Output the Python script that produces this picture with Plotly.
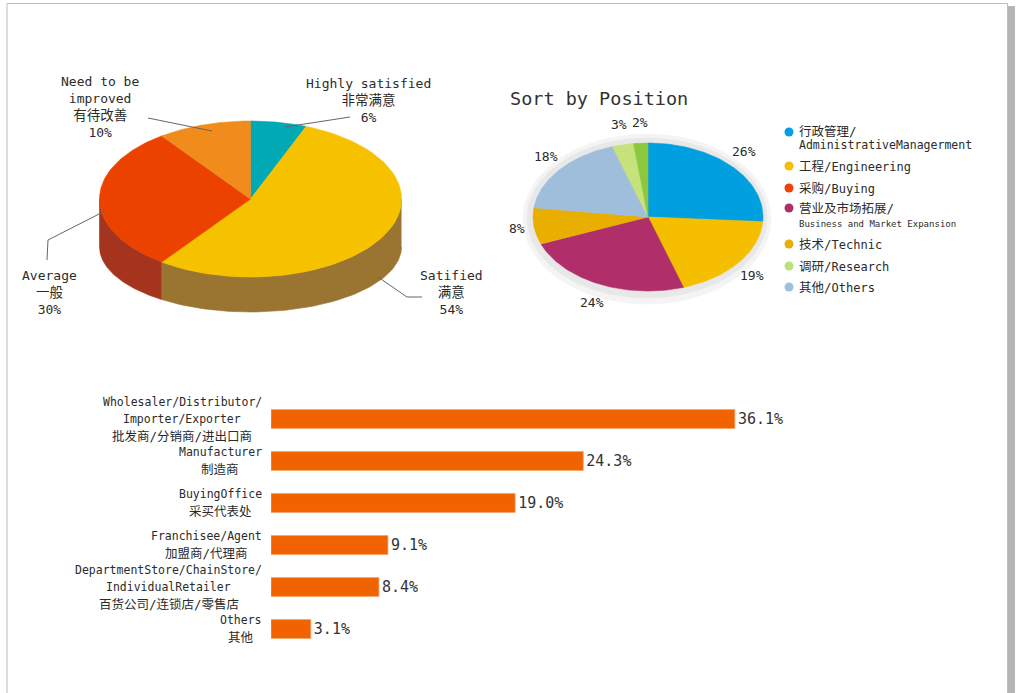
import numpy as np
import plotly.graph_objects as go

W, H = 1024, 693
FONT = "DejaVu Sans Mono, Noto Sans CJK SC, sans-serif"
TXT = "#2b2b2b"

# ---------------- data ----------------
# Left 3D pie: satisfaction
SAT_NAMES_EN = ["Highly satisfied", "Satified", "Average", "Need to be<br>improved"]
SAT_NAMES_CN = ["非常满意", "满意", "一般", "有待改善"]
SAT_VALUES = [6, 54, 30, 10]
SAT_TOP = ["#00A9B4", "#F6C200", "#EB4200", "#F18B1C"]
SAT_SIDE = ["#007A82", "#9A7532", "#A5341F", "#B0641A"]

# Right pie: sort by position (slices in drawn order, clockwise from top)
POS_VALUES = [26, 19, 24, 8, 18, 3, 2]
POS_COLORS = ["#009FE0", "#F5BF00", "#B02F6A", "#E8AE00", "#9EBEDC", "#C6E27C", "#8DC63F"]

LEGEND_CN = ["行政管理/", "工程/", "采购/", "营业及市场拓展/", "技术/", "调研/", "其他/"]
LEGEND_EN = ["AdministrativeManagerment", "Engineering", "Buying",
             "Business and Market Expansion", "Technic", "Research", "Others"]
LEGEND_COLORS = ["#009FE0", "#F5BF00", "#EE4000", "#B02F6A", "#E8AE00", "#BDE07A", "#9EBEDC"]

# Bars: sort by business type
BAR_LABELS = [["Wholesaler/Distributor/", "Importer/Exporter", "批发商/分销商/进出口商"],
              ["Manufacturer", "制造商"],
              ["BuyingOffice", "采买代表处"],
              ["Franchisee/Agent", "加盟商/代理商"],
              ["DepartmentStore/ChainStore/", "IndividualRetailer", "百货公司/连锁店/零售店"],
              ["Others", "其他"]]
BAR_VALUES = [36.1, 24.3, 19.0, 9.1, 8.4, 3.1]

# ---------------- helpers ----------------
def arc(cx, cy, rx, ry, a0, a1, n=80):
    th = np.radians(np.linspace(a0, a1, max(n, 2)))
    return cx + rx * np.sin(th), cy - ry * np.cos(th)

def poly(fig, xs, ys, color, lw=0.6):
    fig.add_trace(go.Scatter(x=list(xs), y=list(ys), mode="lines", fill="toself",
                             fillcolor=color, line=dict(color=color, width=lw),
                             hoverinfo="skip", showlegend=False, xaxis="x", yaxis="y"))

def is_cjk(s):
    return any(ord(c) > 0x2E80 for c in s)

def cjk(s, size):
    return f"<span style='font-size:{size}px'>{s}</span>"

fig = go.Figure()

# ---------------- left 3D pie ----------------
LCX, LCY, LRX, LRY = 250.5, 199, 151, 78
LBY, LBRY = 247, 65  # bottom ellipse (perspective)
angles = np.concatenate([[0], np.cumsum(SAT_VALUES)]) / sum(SAT_VALUES) * 360
for i in range(len(SAT_VALUES)):
    a0, a1 = max(angles[i], 90), min(angles[i + 1], 270)
    if a1 <= a0:
        continue
    tx, ty = arc(LCX, LCY, LRX, LRY, a0, a1)
    bx, by = arc(LCX, LBY, LRX, LBRY, a0, a1)
    poly(fig, np.concatenate([tx, bx[::-1]]), np.concatenate([ty, by[::-1]]), SAT_SIDE[i])
for i in range(len(SAT_VALUES)):
    tx, ty = arc(LCX, LCY, LRX, LRY, angles[i], angles[i + 1])
    poly(fig, np.concatenate([[LCX], tx, [LCX]]), np.concatenate([[LCY], ty, [LCY]]), SAT_TOP[i])

# ---------------- right pie ----------------
RCX, RCY, RRX, RRY = 648, 217, 115, 74
hx, hy = arc(RCX - 1, RCY + 2, RRX + 9, RRY + 11, 0, 360, 200)
poly(fig, hx, hy, "#F4F4F4")
hx, hy = arc(RCX - 1, RCY + 1, RRX + 5, RRY + 6, 0, 360, 200)
poly(fig, hx, hy, "#E8E8E8")
rang = np.concatenate([[0], np.cumsum(POS_VALUES)]) / sum(POS_VALUES) * 360
for i in range(len(POS_VALUES)):
    tx, ty = arc(RCX, RCY, RRX, RRY, rang[i], rang[i + 1])
    poly(fig, np.concatenate([[RCX], tx, [RCX]]), np.concatenate([[RCY], ty, [RCY]]), POS_COLORS[i])

annotations = []
for i, v in enumerate(POS_VALUES):
    mid = np.radians((rang[i] + rang[i + 1]) / 2)
    annotations.append(dict(x=RCX + 132 * np.sin(mid), y=RCY - 95 * np.cos(mid), xref="x", yref="y",
                            text=f"{v}%", showarrow=False,
                            font=dict(family=FONT, size=13, color=TXT)))

# legend for right pie
LEG_Y = [131, 166, 188, 208, 244, 266, 287]
fig.add_trace(go.Scatter(x=[789] * len(LEG_Y), y=[LEG_Y[0] + 1] + LEG_Y[1:], mode="markers",
                         marker=dict(size=9, color=LEGEND_COLORS), hoverinfo="skip",
                         showlegend=False, xaxis="x", yaxis="y"))
for i, (cn, en) in enumerate(zip(LEGEND_CN, LEGEND_EN)):
    if i == 0:
        annotations.append(dict(x=797, y=LEG_Y[i], text=cjk(cn, 12.5), xanchor="left", showarrow=False,
                                xref="x", yref="y", font=dict(family=FONT, size=12, color=TXT)))
        annotations.append(dict(x=797, y=LEG_Y[i] + 14, text=en, xanchor="left", showarrow=False,
                                xref="x", yref="y", font=dict(family=FONT, size=11.5, color=TXT)))
    elif i == 3:
        annotations.append(dict(x=797, y=LEG_Y[i], text=cjk(cn, 12.5), xanchor="left", showarrow=False,
                                xref="x", yref="y", font=dict(family=FONT, size=12, color=TXT)))
        annotations.append(dict(x=797, y=LEG_Y[i] + 16, text=en, xanchor="left", showarrow=False,
                                xref="x", yref="y", font=dict(family=FONT, size=9, color=TXT)))
    else:
        annotations.append(dict(x=797, y=LEG_Y[i], text=cjk(cn, 12.5) + en, xanchor="left",
                                showarrow=False, xref="x", yref="y",
                                font=dict(family=FONT, size=12, color=TXT)))

annotations.append(dict(x=508, y=98, text="Sort by Position", xanchor="left", showarrow=False,
                        xref="x", yref="y", font=dict(family=FONT, size=18.5, color="#333333")))

# left pie labels
SAT_LABEL_POS = [(368, 100), (451, 292), (49, 292), (100, 107)]
for i, v in enumerate(SAT_VALUES):
    annotations.append(dict(x=SAT_LABEL_POS[i][0], y=SAT_LABEL_POS[i][1], xref="x", yref="y",
                            text=f"{SAT_NAMES_EN[i]}<br>{cjk(SAT_NAMES_CN[i], 13.5)}<br>{v}%",
                            showarrow=False, align="center",
                            font=dict(family=FONT, size=13, color=TXT)))

LEADERS = ["M 285 127 L 350 117", "M 378 277 L 407 297 L 422 297",
           "M 105 211 L 48 240 L 47 260", "M 212 131 L 148 118"]
shapes = [dict(type="path", path=p, xref="x", yref="y", line=dict(color="#666666", width=1))
          for p in LEADERS]

# ---------------- bars ----------------
PX_PER_UNIT = 12.85
BX0 = 271
fig.add_trace(go.Bar(x=BAR_VALUES, y=list(range(len(BAR_VALUES))), orientation="h",
                     width=0.45, marker=dict(color="#F06300", line=dict(color="#F7A26A", width=0.8)),
                     text=[f"{v:.1f}%" for v in BAR_VALUES], textposition="outside",
                     textfont=dict(family=FONT, size=15, color="#333333"), cliponaxis=False,
                     hoverinfo="skip", showlegend=False, xaxis="x2", yaxis="y2"))

LAB_FS, LAB_CJK_FS = 11.5, 12.5

def text_w(s):
    return sum((LAB_CJK_FS if ord(c) > 0x2E80 else 0.602 * (LAB_CJK_FS if is_cjk(s) else LAB_FS))
               for c in s)

for i, lines in enumerate(BAR_LABELS):
    wmax = max(text_w(l) for l in lines)
    cxl = 262 - wmax / 2
    n = len(lines)
    for j, l in enumerate(lines):
        annotations.append(dict(x=cxl / W, y=i, xref="paper", yref="y2", text=l, showarrow=False,
                                xanchor="center", yshift=-(j - (n - 1) / 2) * 17.5,
                                font=dict(family=FONT, size=LAB_CJK_FS if is_cjk(l) else LAB_FS,
                                          color=TXT)))

# ---------------- page frame ----------------
shapes += [
    dict(type="rect", xref="paper", yref="paper", x0=1008 / W, x1=1015 / W, y0=0, y1=1 - 6 / H,
         fillcolor="#B5B5B5", line=dict(width=0), layer="below"),
    dict(type="path", xref="paper", yref="paper",
         path=f"M {7/W} 0 L {7/W} {1-3.5/H} L {1007.5/W} {1-3.5/H} L {1007.5/W} 0",
         line=dict(color="#BDBDBD", width=1)),
]

ax_hidden = dict(visible=False, showgrid=False, zeroline=False, fixedrange=True)
fig.update_layout(
    width=W, height=H, margin=dict(l=0, r=0, t=0, b=0),
    paper_bgcolor="white", plot_bgcolor="rgba(0,0,0,0)", showlegend=False,
    xaxis=dict(range=[0, W], domain=[0, 1], **ax_hidden),
    yaxis=dict(range=[H, 0], domain=[0, 1], **ax_hidden),
    xaxis2=dict(range=[0, (W - BX0) / PX_PER_UNIT], domain=[BX0 / W, 1], anchor="y2", **ax_hidden),
    yaxis2=dict(range=[5.5, -0.5], domain=[1 - 650 / H, 1 - 398 / H], anchor="x2", **ax_hidden),
    annotations=annotations, shapes=shapes,
)

fig.write_html("out.html", config={"displayModeBar": False},
               post_script="document.body.style.margin='0';document.body.style.overflow='hidden';")
